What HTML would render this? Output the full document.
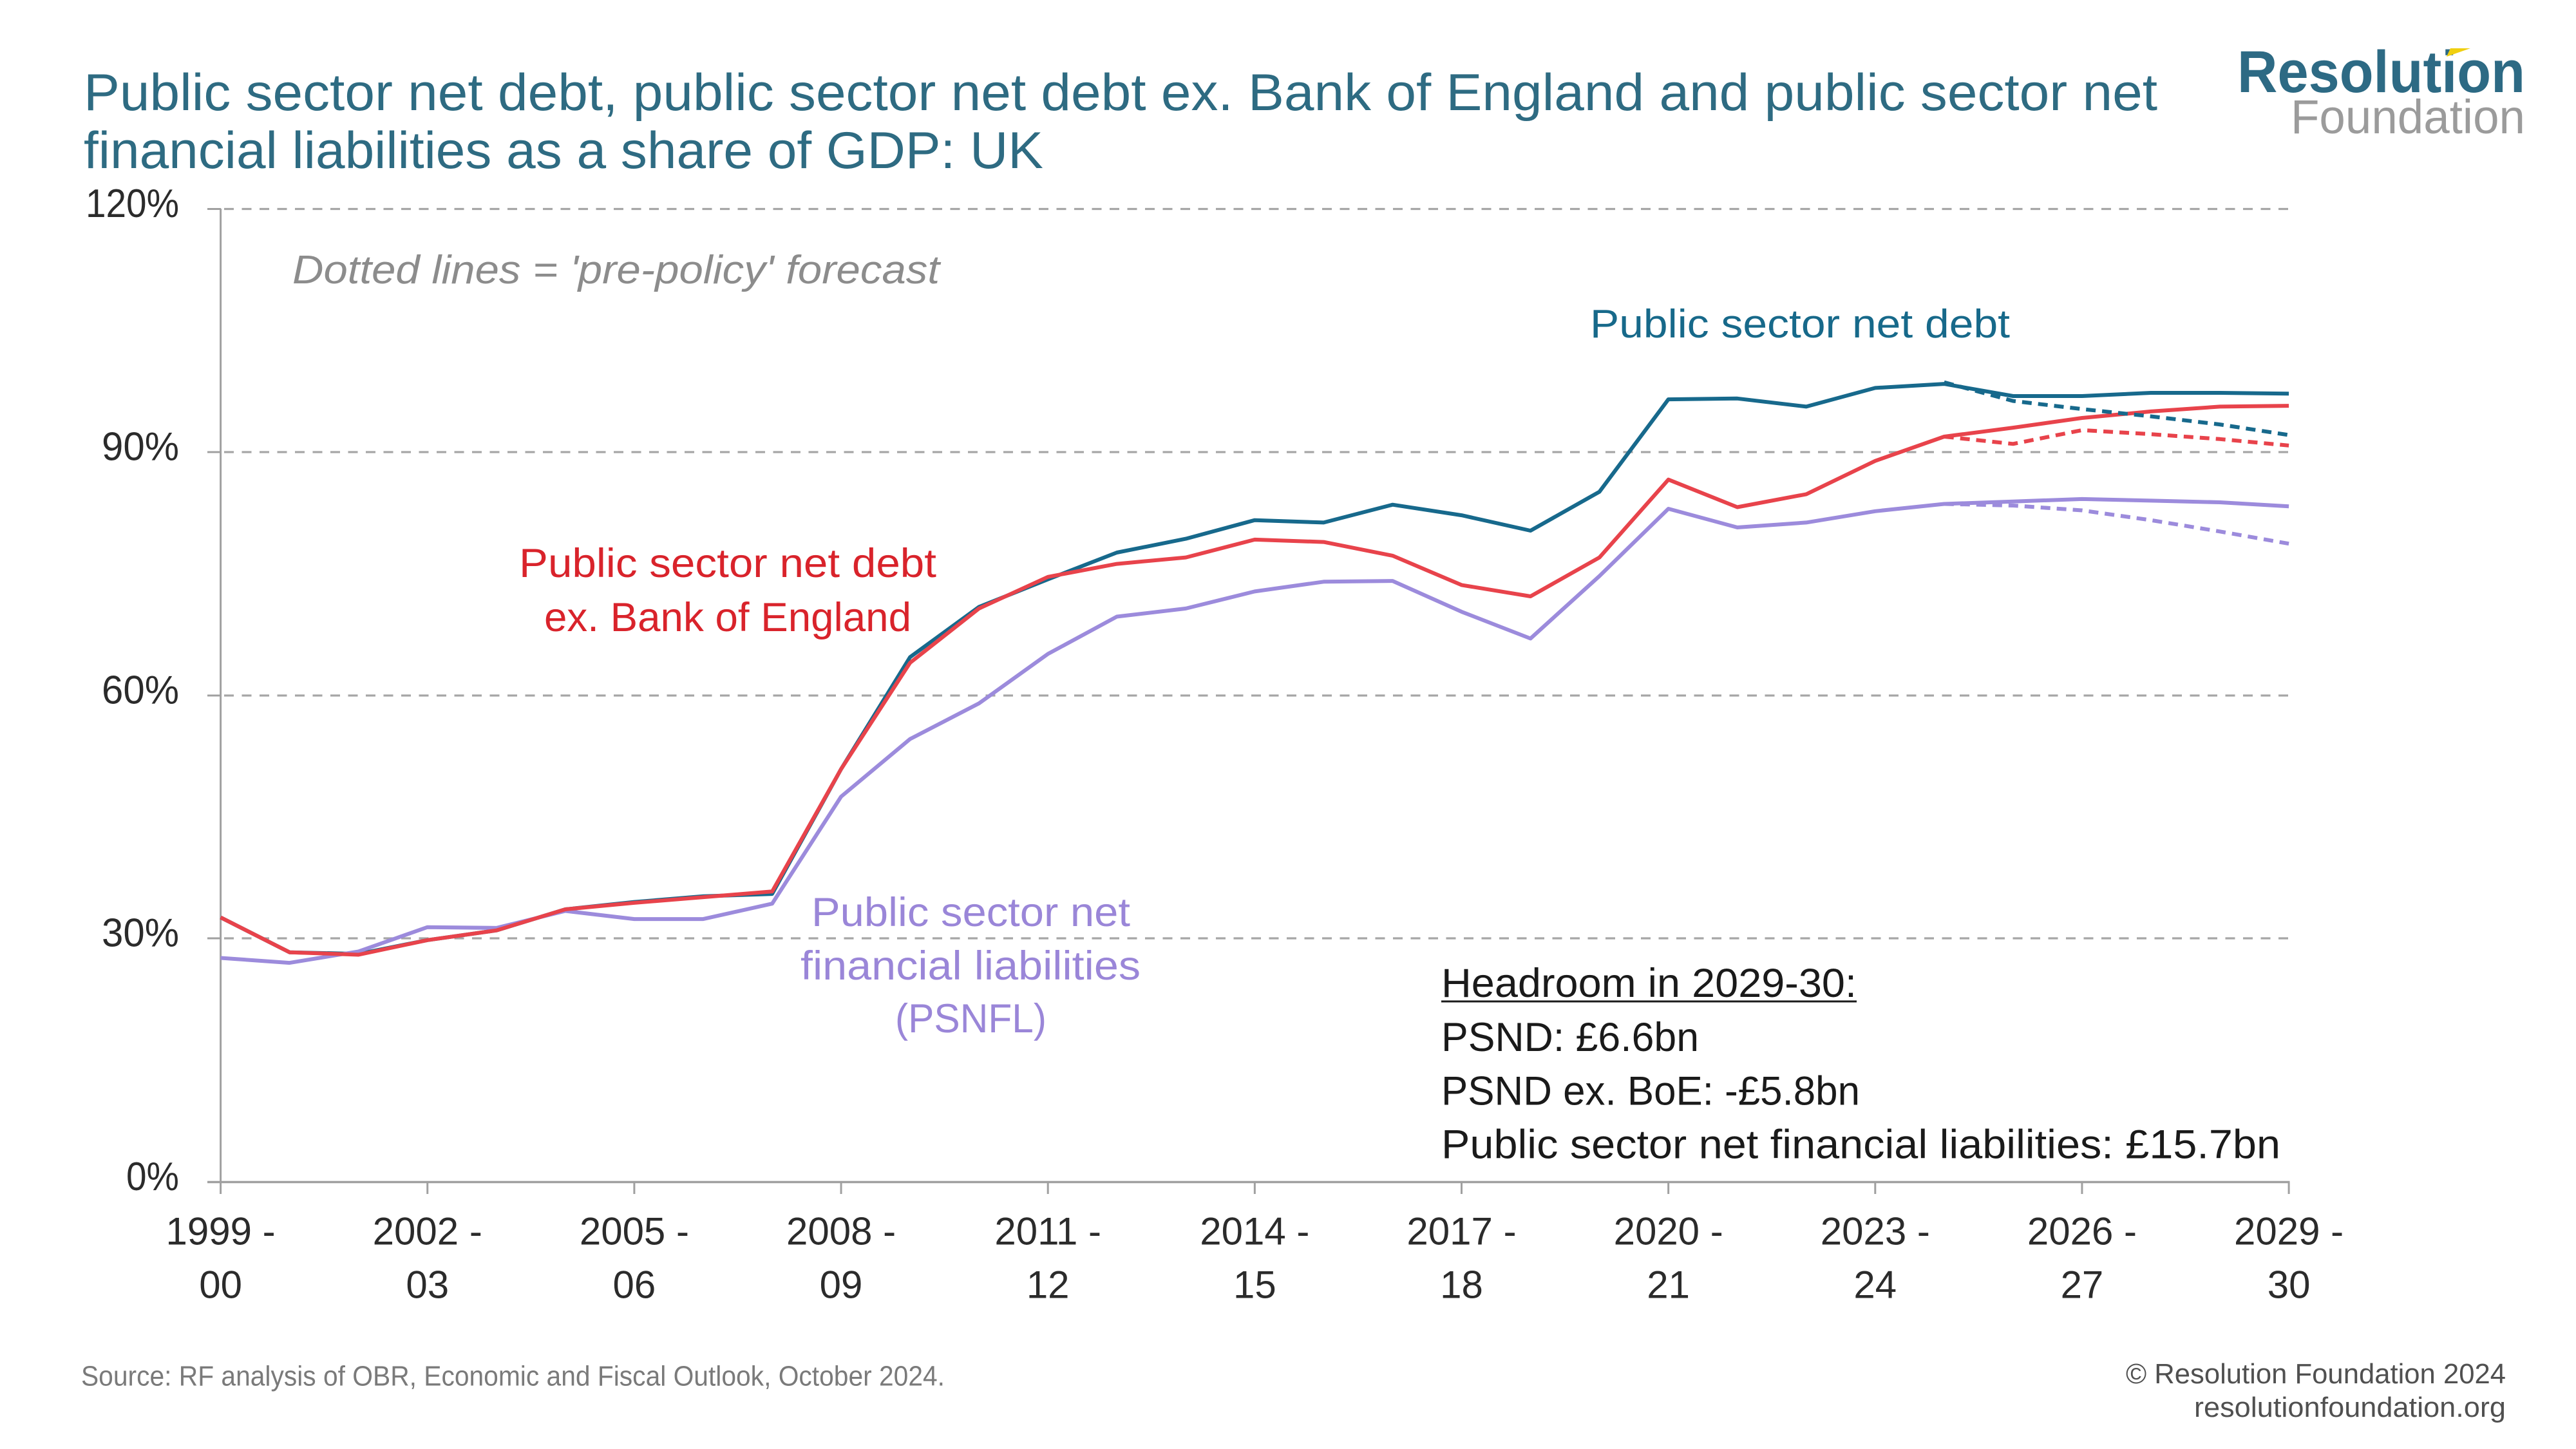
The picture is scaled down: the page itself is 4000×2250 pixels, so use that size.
<!DOCTYPE html>
<html>
<head>
<meta charset="utf-8">
<style>
  html, body { margin: 0; padding: 0; background: #ffffff; }
  svg { display: block; }
  text { font-family: "Liberation Sans", Arial, sans-serif; }
</style>
</head>
<body>
<svg width="4000" height="2250" viewBox="0 0 4000 2250" xmlns="http://www.w3.org/2000/svg">
  <rect x="0" y="0" width="4000" height="2250" fill="#ffffff"/>

  <!-- Title -->
  <text x="130" y="171" font-size="81" fill="#2e6b82" textLength="3220" lengthAdjust="spacingAndGlyphs">Public sector net debt, public sector net debt ex. Bank of England and public sector net</text>
  <text x="130" y="261" font-size="81" fill="#2e6b82" textLength="1490" lengthAdjust="spacingAndGlyphs">financial liabilities as a share of GDP: UK</text>

  <!-- Logo -->
  <text x="3474" y="143" font-size="92" font-weight="bold" fill="#2d6a84" textLength="447" lengthAdjust="spacingAndGlyphs">Resolution</text>
  <polygon points="3799,88 3805,75 3836,75" fill="#f0cf0f"/>
  <text x="3557" y="207" font-size="74" fill="#9b9b9b" textLength="364" lengthAdjust="spacingAndGlyphs">Foundation</text>

  <!-- Gridlines -->
  <g stroke="#a6a6a6" stroke-width="3.3" stroke-dasharray="15 12.5" fill="none">
    <line x1="348" y1="324.5" x2="3554" y2="324.5"/>
    <line x1="348" y1="702" x2="3554" y2="702"/>
    <line x1="348" y1="1080" x2="3554" y2="1080"/>
    <line x1="348" y1="1457" x2="3554" y2="1457"/>
  </g>

  <!-- Axes -->
  <g stroke="#a0a0a0" stroke-width="3" fill="none">
    <line x1="342.6" y1="324" x2="342.6" y2="1836"/>
    <line x1="322" y1="324.5" x2="343" y2="324.5"/>
    <line x1="322" y1="702" x2="343" y2="702"/>
    <line x1="322" y1="1080" x2="343" y2="1080"/>
    <line x1="322" y1="1457" x2="343" y2="1457"/>
    <line x1="322" y1="1835.5" x2="3555.5" y2="1835.5" stroke-width="3.5"/>
    <line x1="342.6" y1="1835" x2="342.6" y2="1854"/>
    <line x1="663.75" y1="1835" x2="663.75" y2="1854"/>
    <line x1="984.9" y1="1835" x2="984.9" y2="1854"/>
    <line x1="1306.05" y1="1835" x2="1306.05" y2="1854"/>
    <line x1="1627.2" y1="1835" x2="1627.2" y2="1854"/>
    <line x1="1948.35" y1="1835" x2="1948.35" y2="1854"/>
    <line x1="2269.5" y1="1835" x2="2269.5" y2="1854"/>
    <line x1="2590.65" y1="1835" x2="2590.65" y2="1854"/>
    <line x1="2911.8" y1="1835" x2="2911.8" y2="1854"/>
    <line x1="3232.95" y1="1835" x2="3232.95" y2="1854"/>
    <line x1="3554.1" y1="1835" x2="3554.1" y2="1854"/>
  </g>

  <!-- Y labels -->
  <g font-size="62" fill="#2b2b2b" text-anchor="end">
    <text x="278" y="337" textLength="145" lengthAdjust="spacingAndGlyphs">120%</text>
    <text x="278" y="714.5" textLength="120" lengthAdjust="spacingAndGlyphs">90%</text>
    <text x="278" y="1092.5" textLength="120" lengthAdjust="spacingAndGlyphs">60%</text>
    <text x="278" y="1469.5" textLength="120" lengthAdjust="spacingAndGlyphs">30%</text>
    <text x="278" y="1848" textLength="82" lengthAdjust="spacingAndGlyphs">0%</text>
  </g>

  <!-- X labels -->
  <g font-size="60" fill="#2b2b2b" text-anchor="middle">
    <text x="342.6" y="1932.5">1999 -</text><text x="342.6" y="2015.5">00</text>
    <text x="663.75" y="1932.5">2002 -</text><text x="663.75" y="2015.5">03</text>
    <text x="984.9" y="1932.5">2005 -</text><text x="984.9" y="2015.5">06</text>
    <text x="1306.05" y="1932.5">2008 -</text><text x="1306.05" y="2015.5">09</text>
    <text x="1627.2" y="1932.5">2011 -</text><text x="1627.2" y="2015.5">12</text>
    <text x="1948.35" y="1932.5">2014 -</text><text x="1948.35" y="2015.5">15</text>
    <text x="2269.5" y="1932.5">2017 -</text><text x="2269.5" y="2015.5">18</text>
    <text x="2590.65" y="1932.5">2020 -</text><text x="2590.65" y="2015.5">21</text>
    <text x="2911.8" y="1932.5">2023 -</text><text x="2911.8" y="2015.5">24</text>
    <text x="3232.95" y="1932.5">2026 -</text><text x="3232.95" y="2015.5">27</text>
    <text x="3554.1" y="1932.5">2029 -</text><text x="3554.1" y="2015.5">30</text>
  </g>

  <!-- Series -->
  <g fill="none" stroke-width="6" stroke-linejoin="round" stroke-linecap="butt">
    <polyline stroke="#17698c" points="342.6,1424.6 449.65,1478.7 556.7,1481.2 663.75,1459.8 770.8,1444.7 877.85,1412.0 984.9,1400.6 1091.95,1391.8 1199.0,1388.1 1306.05,1194.2 1413.1,1020.4 1520.15,942.4 1627.2,899.6 1734.25,858.0 1841.3,836.6 1948.35,807.7 2055.4,811.4 2162.45,783.7 2269.5,800.1 2376.55,824.0 2483.6,763.6 2590.65,620.1 2697.7,618.8 2804.75,631.4 2911.8,602.4 3018.85,596.1 3125.9,615.0 3232.95,615.0 3340.0,610.0 3447.05,610.0 3554.1,611.3"/>
    <polyline stroke="#9c8bdc" points="342.6,1487.5 449.65,1495.1 556.7,1477.4 663.75,1439.7 770.8,1440.9 877.85,1414.5 984.9,1427.1 1091.95,1427.1 1199.0,1403.2 1306.05,1237.0 1413.1,1147.6 1520.15,1092.2 1627.2,1015.4 1734.25,957.5 1841.3,944.9 1948.35,918.4 2055.4,903.3 2162.45,902.1 2269.5,949.9 2376.55,991.5 2483.6,894.5 2590.65,790.0 2697.7,819.0 2804.75,811.4 2911.8,793.8 3018.85,782.5 3125.9,778.7 3232.95,774.9 3340.0,777.4 3447.05,780.0 3554.1,786.3"/>
    <polyline stroke="#e8434b" points="342.6,1424.6 449.65,1478.7 556.7,1482.5 663.75,1459.8 770.8,1444.7 877.85,1412.0 984.9,1401.9 1091.95,1393.1 1199.0,1384.3 1306.05,1194.2 1413.1,1029.2 1520.15,944.9 1627.2,895.8 1734.25,875.6 1841.3,865.6 1948.35,837.9 2055.4,841.6 2162.45,862.9 2269.5,908.4 2376.55,926.0 2483.6,865.6 2590.65,744.7 2697.7,787.5 2804.75,767.4 2911.8,715.7 3018.85,678.0 3125.9,664.1 3232.95,649.0 3340.0,638.9 3447.05,631.4 3554.1,630.1"/>
  </g>
  <g fill="none" stroke-width="6" stroke-dasharray="15 10" stroke-linejoin="round">
    <polyline stroke="#17698c" points="3018.85,593.6 3125.9,622.6 3232.95,635.2 3340.0,646.5 3447.05,659.1 3554.1,675.5"/>
    <polyline stroke="#e8434b" points="3018.85,678.0 3125.9,689.3 3232.95,667.9 3340.0,674.2 3447.05,681.8 3554.1,691.8"/>
    <polyline stroke="#9c8bdc" points="3018.85,782.5 3125.9,785.0 3232.95,792.5 3340.0,807.7 3447.05,825.3 3554.1,844.2"/>
  </g>

  <!-- Annotations -->
  <text x="454" y="440" font-size="62" font-style="italic" fill="#8c8c8c" textLength="1005" lengthAdjust="spacingAndGlyphs">Dotted lines = 'pre-policy' forecast</text>

  <text x="2469" y="524" font-size="62" fill="#17698a" textLength="652" lengthAdjust="spacingAndGlyphs">Public sector net debt</text>

  <g font-size="63" fill="#d9232b">
    <text x="806" y="896" textLength="648" lengthAdjust="spacingAndGlyphs">Public sector net debt</text>
    <text x="845" y="980" textLength="570" lengthAdjust="spacingAndGlyphs">ex. Bank of England</text>
  </g>

  <g font-size="63" fill="#9a86d8">
    <text x="1260" y="1438" textLength="495" lengthAdjust="spacingAndGlyphs">Public sector net</text>
    <text x="1243" y="1521" textLength="528" lengthAdjust="spacingAndGlyphs">financial liabilities</text>
    <text x="1390" y="1603" textLength="235" lengthAdjust="spacingAndGlyphs">(PSNFL)</text>
  </g>

  <g font-size="63" fill="#1a1a1a">
    <text x="2238" y="1548" textLength="645" lengthAdjust="spacingAndGlyphs">Headroom in 2029-30:</text>
    <line x1="2238" y1="1555" x2="2883" y2="1555" stroke="#1a1a1a" stroke-width="3"/>
    <text x="2238" y="1632" textLength="400" lengthAdjust="spacingAndGlyphs">PSND: £6.6bn</text>
    <text x="2238" y="1715.5" textLength="650" lengthAdjust="spacingAndGlyphs">PSND ex. BoE: -£5.8bn</text>
    <text x="2238" y="1798.5" textLength="1303" lengthAdjust="spacingAndGlyphs">Public sector net financial liabilities: £15.7bn</text>
  </g>

  <!-- Footer -->
  <text x="126" y="2151.5" font-size="44" fill="#7a7a7a" textLength="1341" lengthAdjust="spacingAndGlyphs">Source: RF analysis of OBR, Economic and Fiscal Outlook, October 2024.</text>
  <text x="3301" y="2148" font-size="44" fill="#505050" textLength="590" lengthAdjust="spacingAndGlyphs">© Resolution Foundation 2024</text>
  <text x="3407" y="2200" font-size="44" fill="#505050" textLength="484" lengthAdjust="spacingAndGlyphs">resolutionfoundation.org</text>
</svg>
</body>
</html>
